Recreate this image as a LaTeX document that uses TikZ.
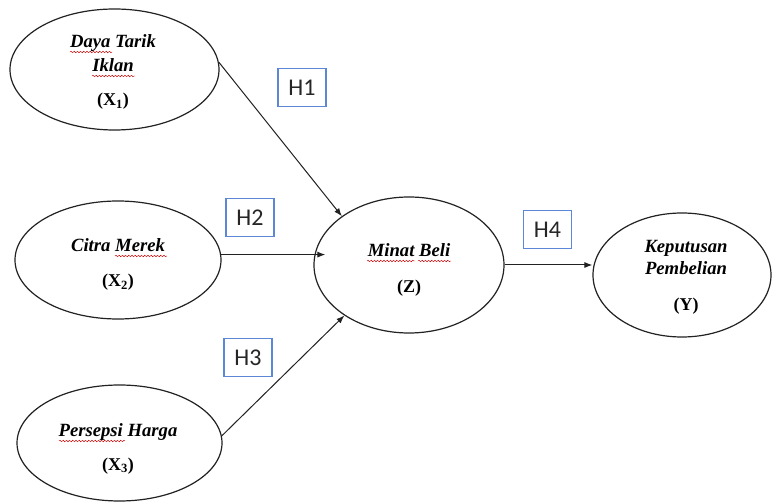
\documentclass[tikz,border=0pt]{standalone}
\usepackage{fontspec}
\setmainfont{Liberation Serif}
\newfontfamily\hfont{Carlito}
\usetikzlibrary{shapes.geometric,arrows.meta,calc,decorations.pathmorphing}
\definecolor{hblue}{HTML}{5B87D6}
\definecolor{lineblk}{HTML}{222222}
\tikzset{
  latent/.style={ellipse,draw=lineblk,line width=0.9pt,inner sep=0pt},
  nametext/.style={anchor=base,inner sep=0pt,font=\fontsize{14}{16}\selectfont\bfseries\itshape},
  idtext/.style={anchor=base,inner sep=0pt,font=\fontsize{13.5}{15}\selectfont\bfseries},
  hbox/.style={draw=hblue,line width=0.8pt,minimum width=36pt,minimum height=29pt,inner sep=0pt,
    font=\hfont\fontsize{18}{20}\selectfont,text=black!85},
  arr/.style={draw=lineblk,line width=0.75pt,-{Latex[length=6pt,width=4.5pt]}},
  spell/.style={draw=red!80!black,line width=0.35pt,decorate,decoration={snake,amplitude=0.55pt,segment length=2.4pt}}
}
\begin{document}
\begin{tikzpicture}[x=0.75pt,y=-0.75pt]
\useasboundingbox[fill=white] (0,0) rectangle (772,502);
% ellipses
\node[latent,minimum width=156.75pt,minimum height=90.75pt] (x1) at (114.5,69.5) {};
\node[latent,minimum width=154.5pt,minimum height=88.5pt] (x2) at (118,260) {};
\node[latent,minimum width=153.75pt,minimum height=87pt] (x3) at (119.5,443) {};
\node[latent,minimum width=142.5pt,minimum height=102pt] (z) at (409,265) {};
\node[latent,minimum width=133.5pt,minimum height=93pt] (y) at (682,275) {};
% texts
\node[nametext] (t1a) at (113,48) {Daya Tarik};
\node[nametext] (t1b) at (113,72) {Iklan};
\node[idtext] (t1c) at (113,106) {(X\textsubscript{1})};
\node[nametext] (t2a) at (118,252) {Citra Merek};
\node[idtext] (t2b) at (118,287) {(X\textsubscript{2})};
\node[nametext] (t3a) at (118,437) {Persepsi Harga};
\node[idtext] (t3b) at (118,470) {(X\textsubscript{3})};
\node[nametext] (tza) at (409,257) {Minat Beli};
\node[idtext] (tzb) at (409,293) {(Z)};
\node[nametext] (tya) at (686,253) {Keputusan};
\node[nametext] (tyb) at (686,275) {Pembelian};
\node[idtext] (tyc) at (686,311) {(Y)};
% spell-check underlines
\draw[spell] (70,52) -- (112,52);
\draw[spell] (92,76) -- (135,76);
\draw[spell] (115,256) -- (167,256);
\draw[spell] (59,441) -- (125,441);
\draw[spell] (367,261) -- (415,261);
\draw[spell] (418,261) -- (451,261);
% hypothesis boxes
\node[hbox] (h1) at (302,87.5) {H1};
\node[hbox] (h2) at (250,217.5) {H2};
\node[hbox] (h3) at (248,357.5) {H3};
\node[hbox] (h4) at (547.5,229.5) {H4};
% connectors
\draw[arr] (x1.4) -- (z.144);
\draw[arr] (x2.3) -- ($(x2.3 -| z.west)+(12,0)$);
\draw[arr] (x3.4.5) -- (z.218);
\draw[arr] (z.east) -- (y.west |- z.east);
\end{tikzpicture}
\end{document}
